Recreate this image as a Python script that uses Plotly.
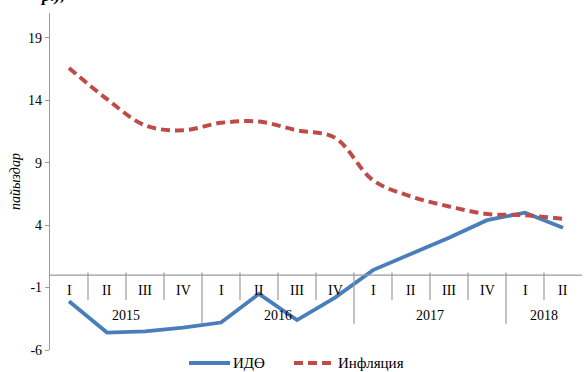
import plotly.graph_objects as go

# Quarterly series, 2015 Q1 – 2018 Q2
quarters = ["I", "II", "III", "IV", "I", "II", "III", "IV",
            "I", "II", "III", "IV", "I", "II"]
years = ["2015", "2016", "2017", "2018"]
quarters_per_year = [4, 4, 4, 2]
ido = [-2.1, -4.6, -4.5, -4.2, -3.8, -1.5, -3.6, -1.8,
       0.4, 1.7, 3.0, 4.4, 5.0, 3.8]
inflation = [16.6, 14.1, 12.0, 11.6, 12.2, 12.3, 11.6, 11.0,
             7.6, 6.3, 5.5, 4.9, 4.8, 4.5]
y_ticks = [-6, -1, 4, 9, 14, 19]

FONT = "Liberation Serif"
GRID = "#9a9a9a"
BLUE = "#4A7EBB"
RED = "#BE4B48"

x = list(range(len(quarters)))

fig = go.Figure()
fig.add_trace(go.Scatter(
    x=x, y=ido, mode="lines", name="ИДӨ",
    line=dict(color=BLUE, width=3.8), showlegend=False,
))
fig.add_trace(go.Scatter(
    x=x, y=inflation, mode="lines", name="Инфляция",
    line=dict(color=RED, width=4, dash="9px,5px", shape="spline", smoothing=1),
    showlegend=False,
))

shapes = []
annotations = []

# horizontal category axis drawn at zero
shapes.append(dict(type="line", xref="x", yref="y", x0=-0.5, x1=len(x) - 0.5,
                   y0=0, y1=0, line=dict(color=GRID, width=1.2)))

# quarter labels and separators
boundaries = []
acc = 0
for n in quarters_per_year:
    acc += n
    boundaries.append(acc - 0.5)
for i, q in enumerate(quarters):
    annotations.append(dict(x=i, y=-1.25, xref="x", yref="y", text=q,
                            showarrow=False, font=dict(family=FONT, size=14, color="#000")))
for k in range(len(x) - 1):
    sep = k + 0.5
    bottom = -3.9 if sep in boundaries else -2.0
    shapes.append(dict(type="line", xref="x", yref="y", x0=sep, x1=sep,
                       y0=0.2, y1=bottom, line=dict(color=GRID, width=1.2)))

# year labels centred under their quarters
start = 0
for yr, n in zip(years, quarters_per_year):
    annotations.append(dict(x=start + (n - 1) / 2, y=-3.25, xref="x", yref="y", text=yr,
                            showarrow=False, font=dict(family=FONT, size=14, color="#000")))
    start += n

# legend
def px_x(p):
    return (p - 50) / 532

def px_y(p):
    return (350 - p) / 337

shapes.append(dict(type="line", xref="paper", yref="paper",
                   x0=px_x(189), x1=px_x(230), y0=px_y(363), y1=px_y(363),
                   line=dict(color=BLUE, width=3.8)))
shapes.append(dict(type="line", xref="paper", yref="paper",
                   x0=px_x(294), x1=px_x(331), y0=px_y(363), y1=px_y(363),
                   line=dict(color=RED, width=4, dash="9px,5px")))
annotations.append(dict(x=px_x(231), y=px_y(363), xref="paper", yref="paper",
                        xanchor="left", yanchor="middle", text="ИДӨ", showarrow=False,
                        font=dict(family=FONT, size=15, color="#000")))
annotations.append(dict(x=px_x(336), y=px_y(363), xref="paper", yref="paper",
                        xanchor="left", yanchor="middle", text="Инфляция", showarrow=False,
                        font=dict(family=FONT, size=15, color="#000")))

# heading line running off the top edge
annotations.append(dict(x=px_x(38), y=px_y(-4), xref="paper", yref="paper",
                        xanchor="left", yanchor="middle", text="<b><i>р.),</i></b>",
                        showarrow=False, font=dict(family=FONT, size=17, color="#000")))

fig.update_layout(
    width=584, height=372,
    margin=dict(l=50, r=2, t=13, b=22),
    paper_bgcolor="white", plot_bgcolor="white",
    shapes=shapes, annotations=annotations,
    xaxis=dict(range=[-0.5, len(x) - 0.5], visible=False, fixedrange=True),
    yaxis=dict(
        range=[-6, 21], tickvals=y_ticks, ticktext=[str(v) for v in y_ticks],
        showgrid=False, zeroline=False, showline=True, linecolor=GRID, linewidth=1.2,
        ticks="outside", ticklen=4, tickcolor=GRID,
        tickfont=dict(family=FONT, size=14, color="#000"),
        title=dict(text="<i>пайыздар</i>", font=dict(family=FONT, size=14, color="#000"),
                   standoff=4),
    ),
)

fig.write_html("out.html")
